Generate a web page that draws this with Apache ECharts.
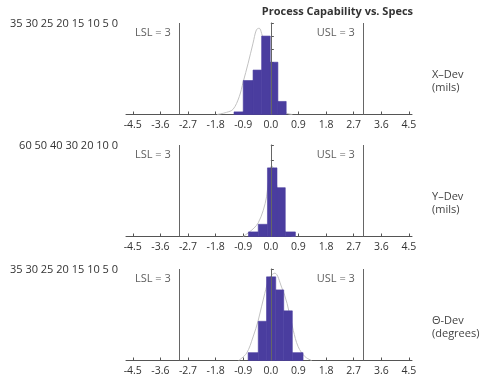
<!DOCTYPE html>
<html>
<head>
<meta charset="utf-8">
<script src="https://cdn.jsdelivr.net/npm/echarts@6/dist/echarts.min.js"></script>
<style>html,body{margin:0;padding:0;background:#fff;}#c{width:480px;height:379px;}</style>
</head>
<body>
<div id="c"></div>
<script>
const xTicks = [-4.5, -3.6, -2.7, -1.8, -0.9, 0.0, 0.9, 1.8, 2.7, 3.6, 4.5];
const specLimits = [-3, 3];
const panelNames = ['X–Dev\n(mils)', 'Y–Dev\n(mils)', 'Θ-Dev\n(degrees)'];
const yTicks1 = [35, 30, 25, 20, 15, 10, 5, 0];
const yTicks2 = [60, 50, 40, 30, 20, 10, 0];
const yTicks3 = [35, 30, 25, 20, 15, 10, 5, 0];
const binEdges1 = [-1.2, -0.9, -0.58, -0.3, -0.02, 0.23, 0.5];
const counts1 = [1, 13, 17, 30, 20, 5];
const binEdges2 = [-0.73, -0.41, -0.11, 0.2, 0.47, 0.8];
const counts2 = [3, 8, 45, 32, 3];
const binEdges3 = [-0.74, -0.41, -0.14, 0.16, 0.42, 0.7, 1.05];
const counts3 = [3, 15, 32, 27, 19, 3];
const curve1 = [[-1.75,0],[-1.45,0.8],[-1.23,2],[-1.03,6.8],[-0.9,12.5],[-0.74,19.6],[-0.58,27.3],[-0.47,32.4],[-0.38,33],[-0.3,31],[-0.15,24],[0,15],[0.15,7],[0.3,2.5],[0.5,0.6],[0.7,0]];
const curve2 = [[-0.9,0],[-0.73,2.5],[-0.55,5.5],[-0.41,9],[-0.25,17],[-0.14,26],[-0.05,40],[0.03,46.5],[0.12,42],[0.2,32],[0.3,18],[0.45,4],[0.6,1],[0.8,0]];
const curve3 = [[-1.05,0],[-0.79,2.8],[-0.58,9],[-0.41,15.4],[-0.2,25.6],[-0.03,31.9],[0.13,33.4],[0.35,28.1],[0.53,21.8],[0.73,11.6],[0.89,5.3],[1.11,1.5],[1.33,0]];

const panels = [
  {yTicks: yTicks1, edges: binEdges1, counts: counts1, curve: curve1},
  {yTicks: yTicks2, edges: binEdges2, counts: counts2, curve: curve2},
  {yTicks: yTicks3, edges: binEdges3, counts: counts3, curve: curve3}
];
const FONT = '"Open Sans", "DejaVu Sans", sans-serif';
const tops = [23, 145, 269];
const gridH = 91.5;

const option = {
  animation: false,
  backgroundColor: '#fff',
  textStyle: {fontFamily: FONT},
  title: [
    {text: 'Process Capability vs. Specs', right: 62, top: 1,
     textStyle: {fontFamily: FONT, fontSize: 11, fontWeight: 'bold', color: '#333'}}
  ].concat(panelNames.map((n, i) => ({
    text: n, left: 427, top: tops[i] + 40,
    textStyle: {fontFamily: FONT, fontSize: 11, fontWeight: 'normal', color: '#444', lineHeight: 13}
  }))).concat(panels.map((p, i) => ({
    text: p.yTicks.join(' '), right: 362, top: tops[i] - 6, padding: 0,
    textStyle: {fontFamily: FONT, fontSize: 11, fontWeight: 'normal', color: '#333', lineHeight: 14}
  }))),
  grid: panels.map((p, i) => ({left: 126, width: 286, top: tops[i], height: gridH, outerBoundsMode: 'none', containLabel: false})),
  xAxis: panels.map((p, i) => ({
    type: 'value', gridIndex: i, min: -4.72, max: 4.6,
    splitLine: {show: false},
    axisLine: {show: true, onZero: false, lineStyle: {color: '#555', width: 1}},
    axisTick: {show: true, inside: true, length: 3, customValues: xTicks, lineStyle: {color: '#555'}},
    axisLabel: {show: true, customValues: xTicks, margin: 5, fontSize: 10.5, color: '#333', fontFamily: FONT,
      formatter: v => v.toFixed(1)}
  })),
  yAxis: panels.map((p, i) => ({
    type: 'value', gridIndex: i, min: 0, max: p.yTicks[0], interval: p.yTicks[0] - p.yTicks[1],
    splitLine: {show: false},
    axisLine: {show: true, lineStyle: {color: '#555', width: 1}},
    axisTick: {show: true, inside: true, length: 3, lineStyle: {color: '#555'}},
    axisLabel: {show: false}
  })),
  series: []
};

panels.forEach((p, i) => {
  option.series.push({
    type: 'line', xAxisIndex: i, yAxisIndex: i, data: p.curve, smooth: 0.35,
    showSymbol: false, symbol: 'none', z: 1, silent: true,
    lineStyle: {color: '#c2c2c2', width: 1},
    markLine: {symbol: 'none', silent: true, label: {show: false},
      lineStyle: {color: '#666', width: 1, type: 'solid'},
      data: [{xAxis: specLimits[0]}, {xAxis: 0}, {xAxis: specLimits[1]}]}
  });
  const bars = p.counts.map((c, k) => [p.edges[k], p.edges[k + 1], c]);
  option.series.push({
    type: 'custom', xAxisIndex: i, yAxisIndex: i, data: bars, z: 3,
    encode: {x: [0, 1], y: 2},
    renderItem: (params, api) => {
      const a = api.coord([api.value(0), api.value(2)]);
      const b = api.coord([api.value(1), 0]);
      return {type: 'rect', shape: {x: a[0], y: a[1], width: b[0] - a[0], height: b[1] - a[1]},
        style: {fill: '#4a3d9f', stroke: '#4a3d9f', lineWidth: 0.6}};
    }
  });
  const yLab = p.yTicks[0] - 10 / (gridH / p.yTicks[0]);
  option.series.push({
    type: 'scatter', xAxisIndex: i, yAxisIndex: i, symbolSize: 0, z: 4, silent: true,
    data: [
      {value: [specLimits[0], yLab], label: {formatter: 'LSL = 3'}},
      {value: [specLimits[1], yLab], label: {formatter: 'USL = 3'}}
    ],
    label: {show: true, position: 'left', distance: 8, fontSize: 11, color: '#333', fontFamily: FONT}
  });
});

const chart = echarts.init(document.getElementById('c'), null, {renderer: 'canvas'});
chart.setOption(option);
</script>
</body>
</html>
